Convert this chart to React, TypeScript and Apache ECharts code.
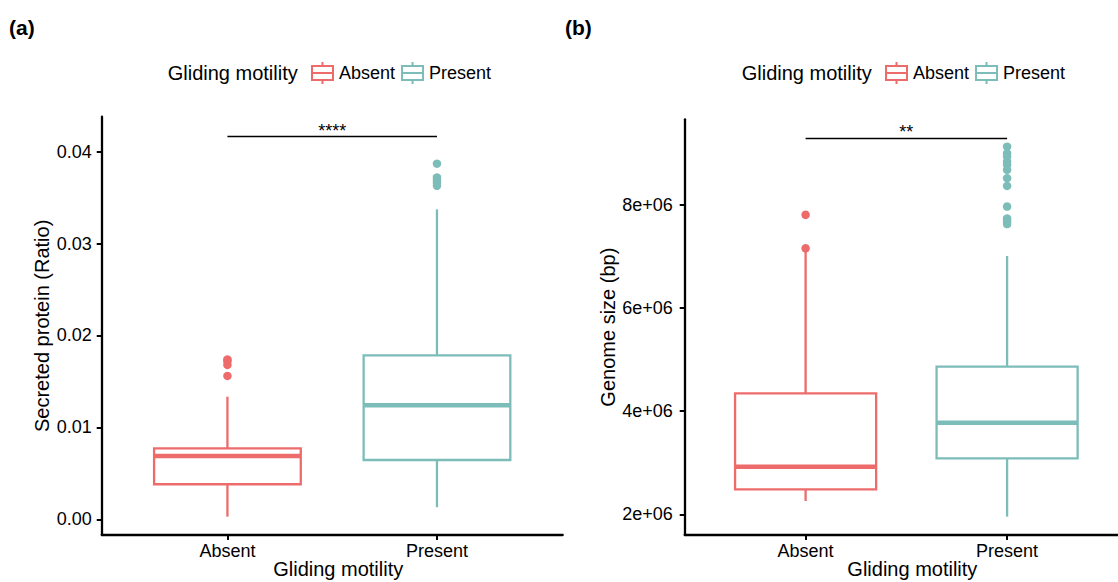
import React, { useEffect, useRef } from 'react';
import * as echarts from 'echarts';

// ---------- data ----------
const categories = ['Absent', 'Present'];
const legendTitle = 'Gliding motility';
const xTitle = 'Gliding motility';
const panelLabels = ['(a)', '(b)'];

// box stats: [lower whisker, Q1, median, Q3, upper whisker]
const secretedAbsentBox = [0.00029, 0.00381, 0.00689, 0.00772, 0.01334];
const secretedPresentBox = [0.00131, 0.00645, 0.0124, 0.01784, 0.03373];
const secretedAbsentOutliers = [0.0174, 0.0172, 0.0168, 0.0156];
const secretedPresentOutliers = [0.0387, 0.0372, 0.0369, 0.0366, 0.0363];
const secretedTicks = [0, 0.01, 0.02, 0.03, 0.04];
const secretedSigY = [0.04165];
const secretedSigLabel = ['****'];

const genomeAbsentBox = [2.259e6, 2.485e6, 2.925e6, 4.347e6, 7.12e6];
const genomePresentBox = [1.955e6, 3.086e6, 3.778e6, 4.864e6, 7.011e6];
const genomeAbsentOutliers = [7.81e6, 7.16e6];
const genomePresentOutliers = [
  9.13e6, 9.0e6, 8.94e6, 8.84e6, 8.78e6, 8.68e6, 8.52e6, 8.37e6, 7.97e6, 7.74e6, 7.68e6, 7.63e6,
];
const genomeTicks = [2e6, 4e6, 6e6, 8e6];
const genomeSigY = [9.293e6];
const genomeSigLabel = ['**'];

// ---------- styles ----------
const colors = ['#EE6B6B', '#7DBDB9'];
const FONT = '"Liberation Sans", Arial, Helvetica, sans-serif';
const ICON =
  'path://M0 3h23v2H0Z M0 17h23v2H0Z M0 3h2v16H0Z M21 3h2v16h-2Z M0 10h23v2H0Z M10.5 0h2v3h-2Z M10.5 19h2v3h-2Z';

function boxRender(params: any, api: any) {
  const x = api.value(0);
  const lo = api.coord([x, api.value(1)]);
  const q1 = api.coord([x, api.value(2)]);
  const med = api.coord([x, api.value(3)]);
  const q3 = api.coord([x, api.value(4)]);
  const hi = api.coord([x, api.value(5)]);
  const hw = api.size([0.7, 0])[0] / 2;
  const c = colors[params.dataIndex];
  return {
    type: 'group',
    children: [
      { type: 'line', shape: { x1: lo[0], y1: lo[1], x2: q1[0], y2: q1[1] }, style: { stroke: c, lineWidth: 2.3 } },
      { type: 'line', shape: { x1: q3[0], y1: q3[1], x2: hi[0], y2: hi[1] }, style: { stroke: c, lineWidth: 2.3 } },
      {
        type: 'rect',
        shape: { x: q3[0] - hw, y: q3[1], width: hw * 2, height: q1[1] - q3[1] },
        style: { fill: '#fff', stroke: c, lineWidth: 2.3 },
      },
      {
        type: 'line',
        shape: { x1: med[0] - hw, y1: med[1], x2: med[0] + hw, y2: med[1] },
        style: { stroke: c, lineWidth: 4.5 },
      },
    ],
  };
}

function xAxisFor(grid: number) {
  return {
    gridIndex: grid,
    type: 'value',
    min: 0.4,
    max: 2.6,
    name: xTitle,
    nameLocation: 'middle',
    nameGap: 24,
    nameMoveOverlap: false,
    nameTextStyle: { fontSize: 20, color: '#000', padding: [0, 0, 0, 12] },
    axisLine: { show: true, onZero: false, lineStyle: { color: '#000', width: 2.3 } },
    axisTick: { show: true, customValues: [1, 2], length: 5, lineStyle: { color: '#000', width: 2 } },
    axisLabel: {
      customValues: [1, 2],
      formatter: (v: number) => categories[Math.round(v) - 1],
      fontSize: 18,
      color: '#000',
      margin: 7,
    },
    splitLine: { show: false },
  };
}

function sigMarkLine(y: number, label: string) {
  return {
    silent: true,
    symbol: ['none', 'none'],
    lineStyle: { color: '#000', width: 1.3, type: 'solid' },
    label: {
      show: true,
      position: 'insideMiddleTop',
      formatter: label,
      fontSize: 18,
      color: '#000',
      distance: 1,
      offset: [0, 4],
    },
    emphasis: { disabled: true },
    data: [[{ coord: [1, y] }, { coord: [2, y] }]],
  };
}

function legendAt(left: number) {
  return {
    left,
    top: 62,
    padding: 0,
    itemWidth: 23,
    itemHeight: 22,
    itemGap: 6,
    selectedMode: false,
    textStyle: { fontSize: 18, color: '#000', fontFamily: FONT },
    data: categories.map((c, i) => ({
      name: c,
      icon: ICON,
      itemStyle: { color: colors[i], borderWidth: 0 },
    })),
  };
}

export default function App() {
  const ref = useRef<HTMLDivElement>(null);

  useEffect(() => {
    if (!ref.current) return;
    const chart = echarts.init(ref.current, undefined, { renderer: 'svg' });

    const option: any = {
      animation: false,
      backgroundColor: '#fff',
      textStyle: { fontFamily: FONT },
      grid: [
        { left: 101.7, top: 116.7, width: 461, height: 418.3, containLabel: false, outerBoundsMode: 'none' },
        { left: 684.7, top: 119.3, width: 443.3, height: 415.7, containLabel: false, outerBoundsMode: 'none' },
      ],
      xAxis: [xAxisFor(0), xAxisFor(1)],
      yAxis: [
        {
          gridIndex: 0,
          type: 'value',
          min: -0.00171,
          max: 0.04381,
          name: 'Secreted protein (Ratio)',
          nameLocation: 'middle',
          nameGap: 50,
          nameTextStyle: { fontSize: 20, color: '#000' },
          axisLine: { show: true, onZero: false, lineStyle: { color: '#000', width: 2.3 } },
          axisTick: { show: true, customValues: secretedTicks, length: 5, lineStyle: { color: '#000', width: 2 } },
          axisLabel: {
            customValues: secretedTicks,
            formatter: (v: number) => v.toFixed(2),
            fontSize: 18,
            color: '#000',
            margin: 10,
          },
          splitLine: { show: false },
        },
        {
          gridIndex: 1,
          type: 'value',
          min: 1.599e6,
          max: 9.662e6,
          name: 'Genome size (bp)',
          nameLocation: 'middle',
          nameGap: 66,
          nameTextStyle: { fontSize: 20, color: '#000' },
          axisLine: { show: true, onZero: false, lineStyle: { color: '#000', width: 2.3 } },
          axisTick: { show: true, customValues: genomeTicks, length: 5, lineStyle: { color: '#000', width: 2 } },
          axisLabel: {
            customValues: genomeTicks,
            formatter: (v: number) => `${Math.round(v / 1e6)}e+06`,
            fontSize: 18,
            color: '#000',
            margin: 12,
          },
          splitLine: { show: false },
        },
      ],
      legend: [legendAt(311), legendAt(885)],
      graphic: [
        { type: 'text', x: 9, y: 27, style: { text: panelLabels[0], font: `bold 21px ${FONT}`, fill: '#000', verticalAlign: 'middle' } },
        { type: 'text', x: 565, y: 27, style: { text: panelLabels[1], font: `bold 21px ${FONT}`, fill: '#000', verticalAlign: 'middle' } },
        { type: 'text', x: 167.7, y: 73.3, style: { text: legendTitle, font: `20px ${FONT}`, fill: '#000', verticalAlign: 'middle' } },
        { type: 'text', x: 741.7, y: 73.3, style: { text: legendTitle, font: `20px ${FONT}`, fill: '#000', verticalAlign: 'middle' } },
      ],
      series: [
        {
          type: 'custom',
          name: 'boxA',
          xAxisIndex: 0,
          yAxisIndex: 0,
          renderItem: boxRender,
          encode: { x: 0, y: [1, 2, 3, 4, 5] },
          data: [
            [1, ...secretedAbsentBox],
            [2, ...secretedPresentBox],
          ],
          z: 2,
        },
        {
          type: 'scatter',
          name: categories[0],
          xAxisIndex: 0,
          yAxisIndex: 0,
          symbolSize: 8.5,
          itemStyle: { color: colors[0], opacity: 1 },
          data: secretedAbsentOutliers.map((v) => [1, v]),
          z: 3,
        },
        {
          type: 'scatter',
          name: categories[1],
          xAxisIndex: 0,
          yAxisIndex: 0,
          symbolSize: 8.5,
          itemStyle: { color: colors[1], opacity: 1 },
          data: secretedPresentOutliers.map((v) => [2, v]),
          markLine: sigMarkLine(secretedSigY[0], secretedSigLabel[0]),
          z: 3,
        },
        {
          type: 'custom',
          name: 'boxB',
          xAxisIndex: 1,
          yAxisIndex: 1,
          renderItem: boxRender,
          encode: { x: 0, y: [1, 2, 3, 4, 5] },
          data: [
            [1, ...genomeAbsentBox],
            [2, ...genomePresentBox],
          ],
          z: 2,
        },
        {
          type: 'scatter',
          name: categories[0],
          xAxisIndex: 1,
          yAxisIndex: 1,
          symbolSize: 8.5,
          itemStyle: { color: colors[0], opacity: 1 },
          data: genomeAbsentOutliers.map((v) => [1, v]),
          z: 3,
        },
        {
          type: 'scatter',
          name: categories[1],
          xAxisIndex: 1,
          yAxisIndex: 1,
          symbolSize: 8.5,
          itemStyle: { color: colors[1], opacity: 1 },
          data: genomePresentOutliers.map((v) => [2, v]),
          markLine: sigMarkLine(genomeSigY[0], genomeSigLabel[0]),
          z: 3,
        },
      ],
    };

    chart.setOption(option);
    return () => chart.dispose();
  }, []);

  return (
    <div
      ref={ref}
      style={{ position: 'absolute', left: 0, top: 0, width: 1118, height: 582, background: '#fff' }}
    />
  );
}
